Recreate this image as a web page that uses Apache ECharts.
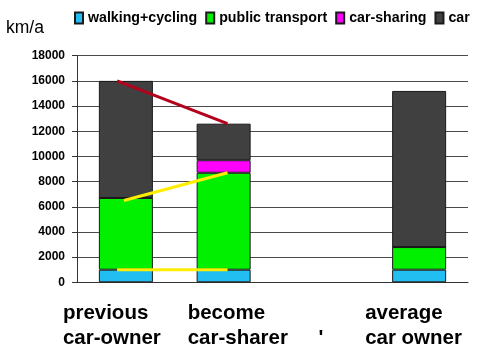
<!DOCTYPE html>
<html>
<head>
<meta charset="utf-8">
<script src="https://cdn.jsdelivr.net/npm/echarts@6/dist/echarts.min.js"></script>
<style>html,body{margin:0;padding:0;background:#fff}#c{width:500px;height:360px}</style>
</head>
<body>
<div id="c"></div>
<script>
const categories = ['previous\ncar-owner', 'become\ncar-sharer', "\n'", 'average\ncar owner'];
const walkingCycling = [1000, 1000, null, 1000];
const publicTransport = [5700, 7700, null, 1800];
const carSharing = [0, 1000, null, 0];
const car = [9300, 2900, null, 12400];
// connector lines: [category-position, value]
const redLine = [[0.41, 16000], [1.54, 12600]];
const yellowUpper = [[0.48, 6500], [1.54, 8700]];
const yellowLower = [[0.41, 1000], [1.54, 1000]];

const sans = '"Liberation Sans", Arial, sans-serif';
const labelPads = [[0, 0, 0, -63], [0, 0, 0, -36], [0, 0, 0, -3], [0, 0, 0, -54]];

const chart = echarts.init(document.getElementById('c'), null, {renderer: 'canvas'});
const barStyle = c => ({color: c, borderColor: '#1a1a1a', borderWidth: 1});
chart.setOption({
  animation: false,
  title: {
    text: 'km/a', left: 1, top: 14,
    textStyle: {fontFamily: sans, fontSize: 17.5, fontWeight: 'normal', color: '#000'}
  },
  legend: {
    left: 74, top: 8, icon: 'rect', padding: 0,
    itemWidth: 8, itemHeight: 11, itemGap: 8,
    textStyle: {fontFamily: sans, fontSize: 14.2, fontWeight: 'bold', color: '#000', lineHeight: 20},
    data: ['walking+cycling', 'public transport', 'car-sharing', 'car']
  },
  grid: {left: 77, right: 32, top: 55.7, bottom: 77.7, containLabel: false},
  xAxis: [{
    type: 'category',
    data: categories.map((c, i) => ({value: c, textStyle: {align: 'left', padding: labelPads[i]}})),
    axisLine: {lineStyle: {color: '#333', width: 1}},
    axisTick: {length: 7, lineStyle: {color: '#333'}},
    axisLabel: {
      interval: 0, margin: 19, fontFamily: sans, fontSize: 20.5, fontWeight: 'bold',
      color: '#000', lineHeight: 25
    }
  }, {
    type: 'value', min: 0, max: 4, show: false
  }],
  yAxis: {
    type: 'value', min: 0, max: 18000, interval: 2000,
    axisLine: {show: true, lineStyle: {color: '#333'}},
    axisTick: {show: true, length: 5, lineStyle: {color: '#333'}},
    axisLabel: {
      margin: 12, fontFamily: sans, fontSize: 12, fontWeight: 'bold', color: '#000',
      formatter: v => String(v)
    },
    splitLine: {lineStyle: {color: '#4a4a4a', width: 1}}
  },
  series: [
    {name: 'walking+cycling', type: 'bar', stack: 's', data: walkingCycling, barWidth: 54, itemStyle: barStyle('#22bef2')},
    {name: 'public transport', type: 'bar', stack: 's', data: publicTransport, barWidth: 54, itemStyle: barStyle('#00f000')},
    {name: 'car-sharing', type: 'bar', stack: 's', data: carSharing, barWidth: 54, itemStyle: barStyle('#ff00ff')},
    {name: 'car', type: 'bar', stack: 's', data: car, barWidth: 54, itemStyle: barStyle('#404040')},
    {type: 'line', xAxisIndex: 1, data: redLine, symbol: 'none', lineStyle: {color: '#b3001b', width: 3}, z: 5},
    {type: 'line', xAxisIndex: 1, data: yellowUpper, symbol: 'none', lineStyle: {color: '#ffee00', width: 3}, z: 5},
    {type: 'line', xAxisIndex: 1, data: yellowLower, symbol: 'none', lineStyle: {color: '#ffee00', width: 3}, z: 5}
  ]
});
</script>
</body>
</html>
